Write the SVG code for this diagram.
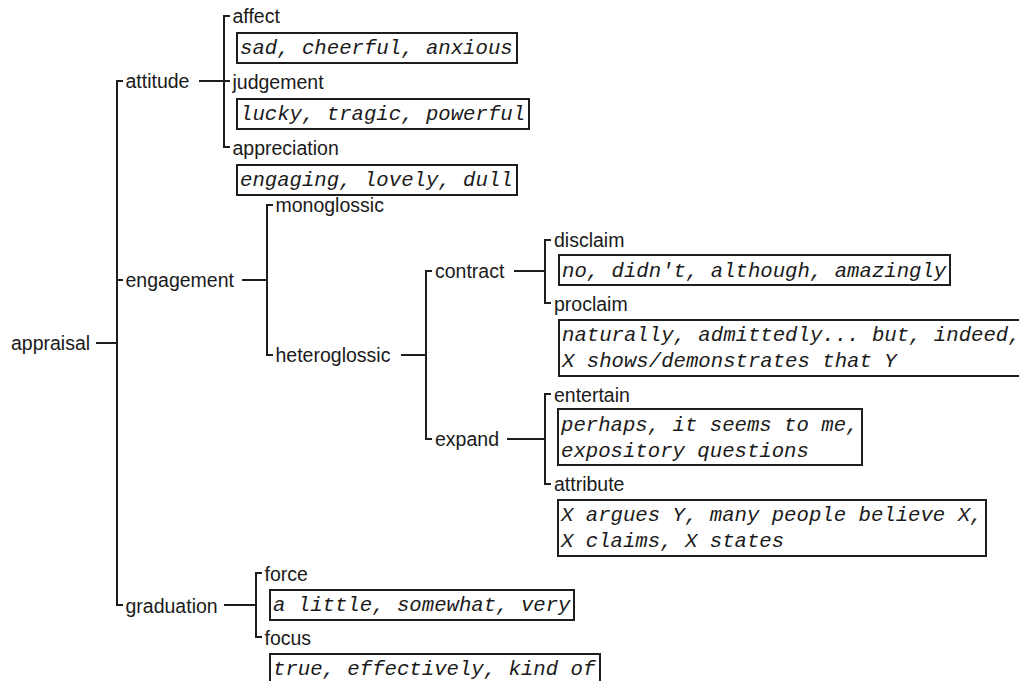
<svg xmlns="http://www.w3.org/2000/svg" width="1019" height="681" viewBox="0 0 1019 681">
  <style>
    .lbl { font-family: "Liberation Sans", Arial, sans-serif; font-size: 19.5px; fill: #1a1a1a; }
    .ex { font-family: "Liberation Mono", "Courier New", monospace; font-style: italic; font-size: 20.67px; fill: #1a1a1a; }
    .box { fill: #ffffff; stroke: #1e1e1e; stroke-width: 2; }
    .ln { fill: none; stroke: #1e1e1e; stroke-width: 2; }
  </style>
  <rect width="1019" height="681" fill="#ffffff"/>

  <!-- connectors: brackets and horizontal links of the system network -->
  <g id="connectors" class="ln">
    <!-- appraisal -->
    <path d="M96 343 H117"/>
    <path d="M123 81 H117 V605 H123 M117 280 H123"/>
    <!-- attitude -->
    <path d="M199 81 H230"/>
    <path d="M230 16 H224 V147 H230"/>
    <!-- engagement -->
    <path d="M242 280 H267"/>
    <path d="M273 205 H267 V355 H273"/>
    <!-- heteroglossic -->
    <path d="M401 355 H426"/>
    <path d="M432 271 H426 V439 H432"/>
    <!-- contract -->
    <path d="M514 271 H545"/>
    <path d="M551 240 H545 V303 H551"/>
    <!-- expand -->
    <path d="M507 439 H545"/>
    <path d="M551 394 H545 V484 H551"/>
    <!-- graduation -->
    <path d="M224 605 H256"/>
    <path d="M262 573 H256 V637 H262"/>
  </g>

  <g id="appraisal"><text class="lbl" x="11" y="349.5">appraisal</text></g>

  <g id="attitude"><text class="lbl" x="125.5" y="88">attitude</text></g>
  <g id="affect">
    <text class="lbl" x="232.5" y="23">affect</text>
    <rect class="box" x="237" y="33" width="280" height="30"/>
    <text class="ex" x="240" y="54">sad, cheerful, anxious</text>
  </g>
  <g id="judgement">
    <text class="lbl" x="232.5" y="88.5">judgement</text>
    <rect class="box" x="237" y="99" width="292" height="30"/>
    <text class="ex" x="240" y="120">lucky, tragic, powerful</text>
  </g>
  <g id="appreciation">
    <text class="lbl" x="232.5" y="154.5">appreciation</text>
    <rect class="box" x="237" y="165" width="280" height="30"/>
    <text class="ex" x="240" y="186">engaging, lovely, dull</text>
  </g>

  <g id="engagement"><text class="lbl" x="125.5" y="287">engagement</text></g>
  <g id="monoglossic"><text class="lbl" x="275.5" y="212">monoglossic</text></g>
  <g id="heteroglossic"><text class="lbl" x="275.5" y="362">heteroglossic</text></g>
  <g id="contract"><text class="lbl" x="435" y="278">contract</text></g>
  <g id="disclaim">
    <text class="lbl" x="554" y="247">disclaim</text>
    <rect class="box" x="559" y="255" width="391" height="30"/>
    <text class="ex" x="562" y="276.5">no, didn't, although, amazingly</text>
  </g>
  <g id="proclaim">
    <text class="lbl" x="554" y="310.5">proclaim</text>
    <rect class="box" x="559" y="320" width="466" height="56"/>
    <text class="ex" x="562" y="341">naturally, admittedly... but, indeed,</text>
    <text class="ex" x="562" y="367">X shows/demonstrates that Y</text>
  </g>
  <g id="expand"><text class="lbl" x="435" y="446">expand</text></g>
  <g id="entertain">
    <text class="lbl" x="554" y="401.5">entertain</text>
    <rect class="box" x="558" y="409" width="304" height="56"/>
    <text class="ex" x="561" y="430.5">perhaps, it seems to me,</text>
    <text class="ex" x="561" y="456.5">expository questions</text>
  </g>
  <g id="attribute">
    <text class="lbl" x="554" y="491">attribute</text>
    <rect class="box" x="558" y="500" width="428" height="56"/>
    <text class="ex" x="561" y="521">X argues Y, many people believe X,</text>
    <text class="ex" x="561" y="547">X claims, X states</text>
  </g>

  <g id="graduation"><text class="lbl" x="125.5" y="612.5">graduation</text></g>
  <g id="force">
    <text class="lbl" x="264.5" y="580.5">force</text>
    <rect class="box" x="270" y="590" width="304" height="30"/>
    <text class="ex" x="273" y="611">a little, somewhat, very</text>
  </g>
  <g id="focus">
    <text class="lbl" x="264.5" y="645">focus</text>
    <rect class="box" x="270" y="654" width="330" height="30"/>
    <text class="ex" x="273" y="675">true, effectively, kind of</text>
  </g>
</svg>
